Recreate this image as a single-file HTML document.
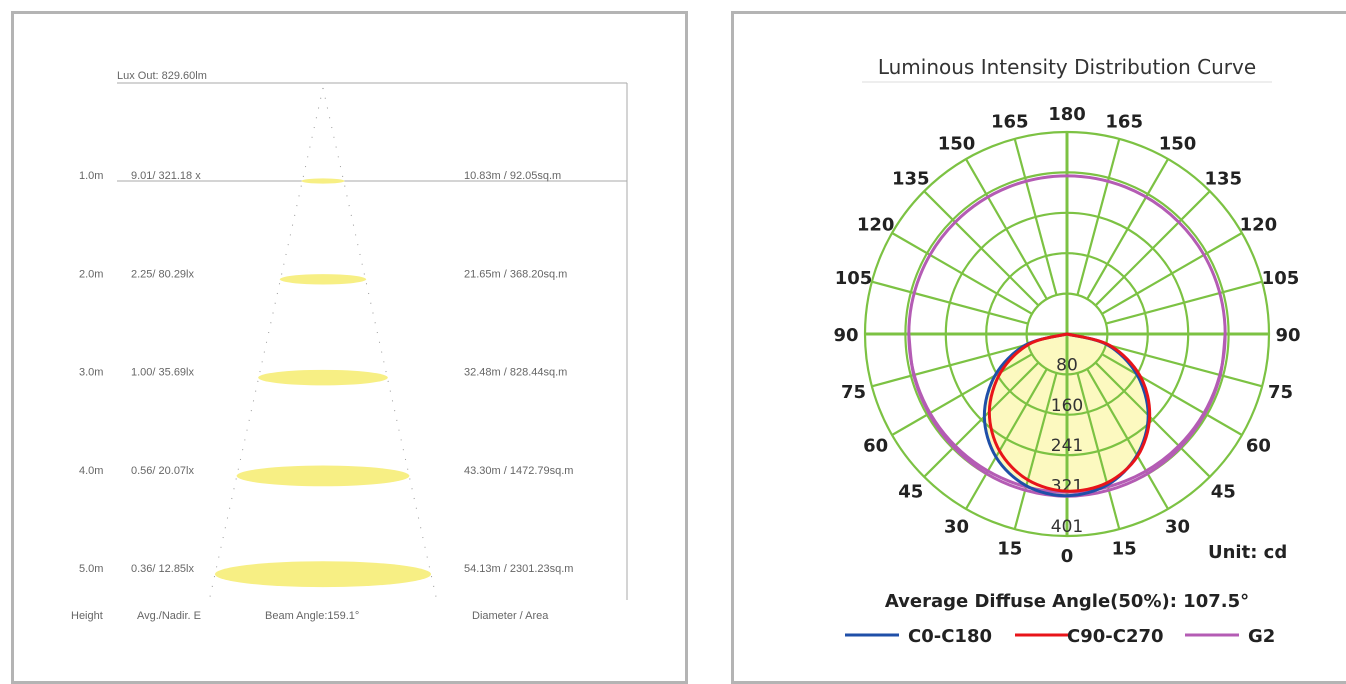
<!DOCTYPE html>
<html><head><meta charset="utf-8"><style>
body{margin:0;width:1346px;height:682px;background:#fff;overflow:hidden;font-family:"Liberation Sans",sans-serif}
.panel{position:absolute;box-sizing:border-box;border:3px solid #b4b4b4;background:#fff}
</style></head><body>
<div class="panel" style="left:11px;top:11px;width:677px;height:673px"></div>
<div class="panel" style="left:731px;top:11px;width:630px;height:673px"></div>
<svg width="1346" height="682" style="position:absolute;left:0;top:0" font-family="Liberation Sans, sans-serif">
<g id="cone" font-size="11" fill="#666"></g>
<g id="polar" font-family="DejaVu Sans, sans-serif"></g>
</svg>
<script>
const heights=["1.0m","2.0m","3.0m","4.0m","5.0m"];
const illum=["9.01/ 321.18 x","2.25/ 80.29lx","1.00/ 35.69lx","0.56/ 20.07lx","0.36/ 12.85lx"];
const diam=["10.83m / 92.05sq.m","21.65m / 368.20sq.m","32.48m / 828.44sq.m","43.30m / 1472.79sq.m","54.13m / 2301.23sq.m"];
const diamVals=[10.83,21.65,32.48,43.30,54.13];
const polarAngles=[0,15,30,45,60,75,90];
const c0Left=[321,312,282,232,165,86,0];
const c0Right=[321,310,278,228,160,83,0];
const c90Left=[312,300,268,218,152,78,0];
const c90Right=[312,306,280,232,168,88,0];
const g2Vals=[322,321,320,318,316,315,314];
const ringLabels=["80","160","241","321","401"];
const NS="http://www.w3.org/2000/svg";
function mk(p,t,a,txt){const e=document.createElementNS(NS,t);for(const k in a)e.setAttribute(k,a[k]);if(txt!==undefined)e.textContent=txt;p.appendChild(e);return e;}
// cone
const cone=document.getElementById('cone');
const apexX=323,apexY=88,rowY=m=>181+(m-1)*98.3,wScale=216/54.13;
let l;
l=mk(cone,'line',{x1:117,y1:83,x2:627,y2:83,stroke:'#aaa'});
l=mk(cone,'line',{x1:627,y1:83,x2:627,y2:600,stroke:'#aaa'});
l=mk(cone,'line',{x1:117,y1:181,x2:627,y2:181,stroke:'#aaa'});
let t=mk(cone,'text',{x:117,y:79},'Lux Out: 829.60lm');
const botY=600,halfB=(diamVals[4]*wScale)/2*(botY-apexY)/(rowY(5)-apexY);
l=mk(cone,'line',{x1:apexX,y1:apexY,x2:apexX-halfB,y2:botY,stroke:'#999','stroke-dasharray':'1 9'});
l=mk(cone,'line',{x1:apexX,y1:apexY,x2:apexX+halfB,y2:botY,stroke:'#999','stroke-dasharray':'1 9'});
heights.forEach((h,i)=>{const y=rowY(i+1);const w=diamVals[i]*wScale;
 const e=mk(cone,'ellipse',{cx:apexX,cy:y,rx:w/2,ry:w*0.06,fill:'#f7ef84'});
 let a=mk(cone,'text',{x:79,y:y-2},h);
 a=mk(cone,'text',{x:131,y:y-2},illum[i]);
 a=mk(cone,'text',{x:464,y:y-2},diam[i]);});
[["Height",71],["Avg./Nadir. E",137],["Beam Angle:159.1°",265],["Diameter / Area",472]].forEach(([s,x])=>{const a=mk(cone,'text',{x:x,y:619},s);});
// polar
const P=document.getElementById('polar');const cx=1067,cy=334,maxV=401,maxR=202;
const rS=v=>v/maxV*maxR;
function pt(deg,v,side){const a=deg*Math.PI/180;return [cx+side*rS(v)*Math.sin(a),cy+rS(v)*Math.cos(a)];}
function curve(left,right){const pts=[];for(let i=polarAngles.length-1;i>=0;i--)pts.push(pt(polarAngles[i],left[i],-1));for(let i=1;i<polarAngles.length;i++)pts.push(pt(polarAngles[i],right[i],1));
 let d='M'+pts[0].join(',');for(let i=0;i<pts.length-1;i++){const p0=pts[Math.max(0,i-1)],p1=pts[i],p2=pts[i+1],p3=pts[Math.min(pts.length-1,i+2)];
 d+=` C${p1[0]+(p2[0]-p0[0])/6},${p1[1]+(p2[1]-p0[1])/6} ${p2[0]-(p3[0]-p1[0])/6},${p2[1]-(p3[1]-p1[1])/6} ${p2[0]},${p2[1]}`;}return d+'Z';}
const fill=mk(P,'path',{d:curve(c0Left,c90Right),fill:'#fcf9c0'});
const G='#7cc243';
[1,2,3,4,5].forEach(k=>{const c=mk(P,'circle',{cx:cx,cy:cy,r:rS(k*80.2),fill:'none',stroke:G,'stroke-width':2.2});});
for(let d=0;d<360;d+=15){const a=d*Math.PI/180;const r0=(d%90===0)?0:rS(80.2);
 const g=mk(P,'line',{x1:cx+r0*Math.sin(a),y1:cy+r0*Math.cos(a),x2:cx+maxR*Math.sin(a),y2:cy+maxR*Math.cos(a),stroke:G,'stroke-width':d%90===0?3:2.2});}
ringLabels.forEach((s,i)=>{const a=mk(P,'text',{x:cx,y:cy+rS((i+1)*80.2)-4,'text-anchor':'middle','font-size':17,fill:'#333'},s);});
const g2p=mk(P,'path',{d:curve(g2Vals,g2Vals).replace(/Z$/,''),fill:'none',stroke:'#b45cb4','stroke-width':3});
const g2u=mk(P,'circle',{cx:cx,cy:cy,r:rS(g2Vals[6]),fill:'none',stroke:'#b45cb4','stroke-width':3});
const bl=mk(P,'path',{d:curve(c0Left,c0Right),fill:'none',stroke:'#1f4fa8','stroke-width':3});
const rd=mk(P,'path',{d:curve(c90Left,c90Right),fill:'none',stroke:'#e8141a','stroke-width':3});
for(let d=0;d<=180;d+=15){[-1,1].forEach(s=>{if((d===0||d===180)&&s===1)return;const a=d*Math.PI/180;const R=maxR+19;
 const x=(d===0||d===180)?cx:cx+s*R*Math.sin(a),y=cy+R*Math.cos(a)+7;
 const tx=mk(P,'text',{x:x,y:y,'text-anchor':'middle','font-size':18,fill:'#222','font-weight':'bold'},String(d));});}
let tt=mk(P,'text',{x:1067,y:74,'text-anchor':'middle','font-size':20,fill:'#333'},'Luminous Intensity Distribution Curve');
l=mk(P,'line',{x1:862,y1:82,x2:1272,y2:82,stroke:'#ddd'});
tt=mk(P,'text',{x:1208,y:558,'font-size':18,fill:'#222','font-weight':'bold'},'Unit: cd');
tt=mk(P,'text',{x:1067,y:607,'text-anchor':'middle','font-size':18,fill:'#222','font-weight':'bold'},'Average Diffuse Angle(50%): 107.5°');
[["C0-C180",845,'#1f4fa8'],["C90-C270",1015,'#e8141a'],["G2",1185,'#b45cb4']].forEach(([s,x,c])=>{
 const g=mk(P,'g',{});
 mk(g,'line',{x1:x,y1:635,x2:x+54,y2:635,stroke:c,'stroke-width':3});
 mk(g,'text',{x:s==="C90-C270"?x+52:x+63,y:642,'font-size':18,fill:'#222','font-weight':'bold'},s);});
</script>
</body></html>
